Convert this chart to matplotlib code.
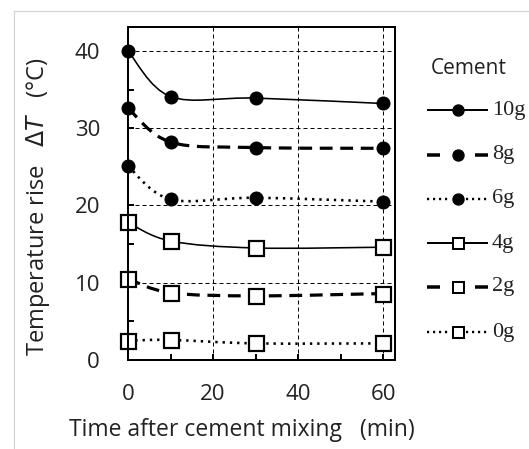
import numpy as np
import matplotlib
matplotlib.use('Agg')
import matplotlib.pyplot as plt
from matplotlib.path import Path
from matplotlib.patches import PathPatch
from matplotlib.lines import Line2D

# ---------------- data ----------------
time_min = [0, 10, 30, 60]
cement_labels = ['10g', '8g', '6g', '4g', '2g', '0g']
rise_10g = [40.0, 34.1, 33.9, 33.2]
rise_8g = [32.6, 28.2, 27.5, 27.4]
rise_6g = [25.1, 20.8, 21.0, 20.5]
rise_4g = [17.8, 15.4, 14.5, 14.6]
rise_2g = [10.5, 8.7, 8.3, 8.6]
rise_0g = [2.5, 2.6, 2.15, 2.15]
x_ticks = [0, 20, 40, 60]
y_ticks = [0, 10, 20, 30, 40]

series = [rise_10g, rise_8g, rise_6g, rise_4g, rise_2g, rise_0g]

W, H = 529, 449
DPI = 100
PX = 72.0 / DPI  # points per pixel

SANS = ['Open Sans', 'DejaVu Sans']
SERIF = ['Liberation Serif', 'DejaVu Serif']
TXT = '#222222'

solid = '-'
dashed = (0, (4.0, 2.4))
dotted = (0, (0.9, 1.9))
styles = [
    dict(ls=solid, lw=1.6 * PX, marker='o'),
    dict(ls=dashed, lw=3.2 * PX, marker='o'),
    dict(ls=dotted, lw=2.6 * PX, marker='o'),
    dict(ls=solid, lw=1.6 * PX, marker='s'),
    dict(ls=dashed, lw=3.2 * PX, marker='s'),
    dict(ls=dotted, lw=2.6 * PX, marker='s'),
]


def smooth_path(x, y):
    pts = np.column_stack([x, y]).astype(float)
    n = len(pts)
    verts = [pts[0]]
    codes = [Path.MOVETO]
    for i in range(n - 1):
        p0 = pts[i - 1] if i > 0 else pts[i]
        p1 = pts[i]
        p2 = pts[i + 1]
        p3 = pts[i + 2] if i + 2 < n else pts[i + 1]
        c1 = p1 + (p2 - p0) / 6.0
        c2 = p2 - (p3 - p1) / 6.0
        verts += [c1, c2, p2]
        codes += [Path.CURVE4] * 3
    return Path(verts, codes)


fig = plt.figure(figsize=(W / DPI, H / DPI), dpi=DPI)
ax = fig.add_axes([128 / W, 1 - 360 / H, (395 - 128) / W, (360 - 27) / H])

ax.set_xlim(0, 62.8)
ax.set_ylim(0, 43.1)

# grid
for gy in y_ticks[1:]:
    ax.axhline(gy, color='black', lw=1.0 * PX, ls=(0, (4, 3)), zorder=1)
for gx in x_ticks[1:]:
    ax.axvline(gx, color='black', lw=1.0 * PX, ls=(0, (4, 3)), zorder=1)

for vals, st in zip(series, styles):
    patch = PathPatch(smooth_path(time_min, vals), fill=False, edgecolor='black',
                      lw=st['lw'], linestyle=st['ls'], zorder=3, capstyle='butt')
    ax.add_patch(patch)
    if st['marker'] == 'o':
        ax.plot(time_min, vals, ls='none', marker='o', ms=13 * PX, mfc='black',
                mec='black', mew=1 * PX, zorder=5, clip_on=False)
    else:
        ax.plot(time_min, vals, ls='none', marker='s', ms=15 * PX, mfc='white',
                mec='black', mew=2.2 * PX, zorder=5, clip_on=False)

for s in ax.spines.values():
    s.set_linewidth(2.0 * PX)
    s.set_zorder(6)

ax.set_xticks(x_ticks)
ax.set_xticks([10, 30, 50], minor=True)
ax.set_yticks(y_ticks)
ax.set_yticks([5, 15, 25, 35], minor=True)
ax.tick_params(which='both', direction='in', length=6 * PX, width=2.0 * PX,
               right=False, top=False)
ax.tick_params(axis='y', which='major', pad=28 * PX)
ax.tick_params(axis='x', which='major', pad=24 * PX)
for lab in ax.get_xticklabels() + ax.get_yticklabels():
    lab.set_fontfamily(SANS)
    lab.set_fontsize(16)
    lab.set_color(TXT)

fig.text(38 / W, 1 - 207 / H, r'Temperature rise   $\mathit{\Delta T}$   (°C)',
         rotation=90, ha='center', va='center', fontsize=17, family=SANS, color=TXT)
fig.text(242 / W, 1 - 430 / H, 'Time after cement mixing   (min)',
         ha='center', va='center', fontsize=16.5, family=SANS, color=TXT)

# ---------------- legend (manual) ----------------
fig.text(469 / W, 1 - 68 / H, 'Cement', ha='center', va='center', fontsize=15,
         family=SANS, color=TXT)
row_y = [110, 155, 199, 243, 287, 332]
lx0, lx1, lm = 427, 488, 458
for yy, lab, st in zip(row_y, cement_labels, styles):
    fy = 1 - yy / H
    if st['ls'] == solid:
        segs = [(lx0, lx1)]
        lw, ls = 2.0 * PX, '-'
    elif st['ls'] == dashed:
        segs = [(lx0, lx0 + 13), (lx1 - 13, lx1)]
        lw, ls = 3.5 * PX, '-'
    else:
        segs = [(lx0, lm - 7), (lm + 8, lx1)]
        lw, ls = 2.4 * PX, (0, (0.9, 1.6))
    for a, b in segs:
        fig.add_artist(Line2D([a / W, b / W], [fy, fy], transform=fig.transFigure,
                              color='black', lw=lw, ls=ls, solid_capstyle='butt'))
    if st['marker'] == 'o':
        fig.add_artist(Line2D([lm / W], [fy], transform=fig.transFigure, ls='none',
                              marker='o', ms=11 * PX, mfc='black', mec='black'))
    else:
        fig.add_artist(Line2D([lm / W], [fy], transform=fig.transFigure, ls='none',
                              marker='s', ms=11 * PX, mfc='white', mec='black',
                              mew=2.0 * PX))
    fig.text(492 / W, fy, lab, ha='left', va='center', fontsize=16, family=SERIF,
             color=TXT)

# frame lines of the screenshot
fig.add_artist(Line2D([14 / W, 1], [1 - 11 / H, 1 - 11 / H], transform=fig.transFigure,
                      color='#d4d4d4', lw=1.2 * PX))
fig.add_artist(Line2D([14 / W, 14 / W], [0, 1 - 11 / H], transform=fig.transFigure,
                      color='#d4d4d4', lw=1.2 * PX))

fig.savefig('out.png', dpi=DPI)
